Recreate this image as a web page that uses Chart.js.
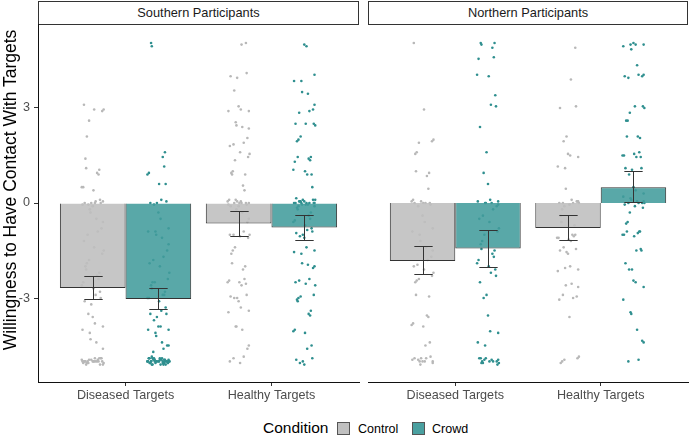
<!DOCTYPE html>
<html>
<head>
<meta charset="utf-8">
<script src="https://cdn.jsdelivr.net/npm/chart.js@4.4.1/dist/chart.umd.min.js"></script>
<style>
    body { margin: 0; background: #fff; font-family: 'Liberation Sans', Arial, sans-serif; }
    #wrap { position: relative; width: 690px; height: 435px; overflow: hidden; }
    canvas { position: absolute; top: 24px; }
    .strip { position: absolute; top: 1px; height: 24px; box-sizing: border-box; border: 1px solid #333;
             text-align: center; line-height: 22px; font-size: 12.8px; color: #1a1a1a; background: #fff; }
    #ytitle { position: absolute; left: -190px; top: 180px; width: 400px; height: 20px; line-height: 20px;
              text-align: center; font-size: 17.5px; color: #000; transform: rotate(-90deg); white-space: nowrap; }
    #legend { position: absolute; top: 419px; left: 0; width: 690px; height: 16px; }
    #legend span { position: absolute; top: 0; white-space: nowrap; color: #000; }
    .key { position: absolute; top: 3px; width: 13px; height: 13px; box-sizing: border-box; border: 1px solid #555; }
</style>
</head>
<body>
<div id="wrap">
    <div class="strip" style="left:38px;width:321px;">Southern Participants</div>
    <div class="strip" style="left:368px;width:320px;">Northern Participants</div>
    <canvas id="southChart" width="362" height="385" style="left:0;"></canvas>
    <canvas id="northChart" width="328" height="385" style="left:362px;"></canvas>
    <div id="ytitle">Willingness to Have Contact With Targets</div>
    <div id="legend">
        <span style="left:263px;font-size:15.5px;line-height:18px;">Condition</span>
        <div class="key" style="left:337px;background:#c0c0c0;"></div>
        <span style="left:358px;top:3px;font-size:12.5px;">Control</span>
        <div class="key" style="left:412px;background:#4aa0a0;"></div>
        <span style="left:432px;top:3px;font-size:12.5px;">Crowd</span>
    </div>
</div>
<script>
// Categories and tick labels
const categories = ['Diseased Targets', 'Healthy Targets'];
const yTicks = [-3, 0, 3];

// Bar means and error bar limits (Diseased, Healthy)
const southControlMean = [-2.68, -0.65];
const southControlLow = [-3.03, -1.04];
const southControlHigh = [-2.30, -0.26];
const southCrowdMean = [-3.03, -0.77];
const southCrowdLow = [-3.35, -1.16];
const southCrowdHigh = [-2.68, -0.38];

const northControlMean = [-1.83, -0.79];
const northControlLow = [-2.25, -1.16];
const northControlHigh = [-1.37, -0.38];
const northCrowdMean = [-1.44, 0.50];
const northCrowdLow = [-2.03, 0.02];
const northCrowdHigh = [-0.86, 1.00];

// Individual responses
const southDiseasedControl = [3.1, 2.95, 2.95, 2.9, 2.6, 2.1, 1.4, 1.1, 1.05, 0.95, 0.9, 0.5, 0.5, 0.4, 0.1, 0.05, 0, 0, 0,
    -0.05, -0.1, 0, 0.05, -0.05, -0.2, -0.3, -0.5, -0.6, -0.8, -0.9, -1.0, -1.2, -1.4, -1.5, -1.6, -1.8, -1.9, -2.0, -2.1,
    -2.2, -2.3, -2.4, -2.5, -2.6, -2.7, -2.8, -2.9, -3.0, -3.1, -3.2, -3.5, -3.6, -3.8, -3.9, -4.0, -4.1, -4.3, -4.4, -4.6,
    -4.9, -4.95, -5.0, -5.0, -5.0, -5.05, -5.0, -4.95, -5.05, -5.0, -5.1, -4.9, -5.0, -5.0, -5.05, -4.95, -5.0, -5.1, -5.0,
    -4.9, -5.0, -4.95, -5.05, -5.0, -4.9, -5.1, -5.0];
const southDiseasedCrowd = [5.05, 4.95, 1.6, 1.45, 1.15, 0.95, 0.9, 0.6, 0.6, 0.1, 0.05, 0, 0, -0.05, -0.3, -0.5, -0.8, -0.9,
    -0.9, -1.0, -1.1, -1.3, -1.5, -1.7, -1.8, -1.9, -2.0, -2.2, -2.4, -2.5, -2.5, -2.6, -2.7, -2.8, -2.9, -2.9, -3.0, -3.0,
    -3.1, -3.3, -3.4, -3.5, -3.5, -3.6, -3.7, -3.9, -3.9, -4.0, -4.0, -4.1, -4.2, -4.4, -4.5, -4.5, -4.6, -4.7, -4.9, -4.95,
    -5.0, -5.05, -5.0, -4.9, -5.0, -5.1, -4.95, -5.0, -5.05, -4.9, -5.0, -5.0, -5.1, -4.95, -5.0, -5.05, -5.0, -4.9, -5.0,
    -5.1, -4.95, -5.0, -5.05, -5.0, -4.9, -5.0, -5.0, -5.1, -4.95, -5.05, -4.9, -5.0, -5.05, -4.95, -5.1, -5.0, -4.85,
    -5.0, -5.05, -4.95, -4.9, -5.0];
const southHealthyControl = [5.05, 5.0, 4.1, 4.0, 3.95, 3.55, 3.05, 2.95, 2.9, 2.9, 2.55, 2.45, 2.4, 2.35, 2.05, 1.9, 1.85,
    1.8, 1.6, 1.55, 1.45, 1.35, 1.0, 0.95, 0.9, 0.9, 0.55, 0.4, 0.1, 0.05, 0, 0, 0, -0.05, -0.1, 0.05, 0, -0.1, 0.05, 0,
    -0.05, 0.1, -0.2, -0.3, -0.5, -0.6, -0.9, -1.0, -1.0, -1.05, -1.0, -1.1, -1.4, -1.5, -1.6, -1.9, -2.0, -2.1, -2.4,
    -2.45, -2.5, -2.5, -2.55, -2.6, -2.9, -2.95, -3.0, -3.0, -3.1, -3.3, -3.4, -3.45, -3.9, -3.9, -4.0, -4.5, -4.6, -4.85,
    -4.9, -5.0, -5.05];
const southHealthyCrowd = [5.0, 4.95, 4.05, 3.85, 3.85, 3.5, 3.45, 3.1, 2.95, 2.9, 2.85, 2.5, 2.5, 2.45, 2.5, 2.1, 2.0, 1.95,
    1.45, 1.45, 1.4, 1.35, 1.3, 1.05, 1.0, 0.9, 0.9, 0.5, 0.15, 0.1, 0.05, 0.05, 0, 0, 0, 0, -0.05, -0.05, -0.1, 0.1, 0,
    0.05, 0, -0.05, 0.1, 0, 0.05, -0.1, -0.15, -0.2, -0.3, -0.4, -0.5, -0.55, -0.6, -0.7, -0.8, -0.85, -0.9, -0.95, -1.0,
    -1.05, -1.1, -1.4, -1.5, -1.55, -1.6, -1.9, -1.95, -2.0, -2.05, -2.4, -2.45, -2.5, -2.55, -2.6, -2.9, -2.95, -3.0,
    -3.05, -3.1, -3.4, -3.5, -3.55, -4.0, -4.05, -4.1, -4.5, -4.6, -4.9, -4.95, -5.0, -5.05, -5.1];
const northDiseasedControl = [5.05, 2.95, 2.0, 1.95, 1.9, 1.6, 1.55, 1.0, 0.95, 0.85, 0.45, 0.1, 0.05, 0, 0, 0, -0.05, 0,
    0.05, -0.1, -0.4, -0.6, -0.8, -0.9, -1.0, -1.2, -1.4, -1.5, -1.7, -1.8, -1.95, -2.0, -2.1, -2.2, -2.3, -2.4, -2.45,
    -2.5, -2.9, -2.95, -3.55, -3.6, -3.8, -3.85, -3.9, -4.4, -4.5, -4.85, -4.9, -4.9, -4.95, -5.0, -5.0, -5.05, -4.95,
    -5.0, -5.1, -4.9, -5.0];
const northDiseasedCrowd = [5.05, 5.0, 5.05, 4.9, 4.6, 4.55, 4.05, 4.0, 3.4, 3.1, 3.05, 2.4, 1.6, 0.95, 0.6, 0.1, 0.05,
    0.05, 0, 0, 0, -0.05, -0.1, -0.2, -0.4, -0.5, -0.6, -0.8, -0.9, -1.0, -1.2, -1.3, -1.45, -1.5, -1.6, -1.7, -1.8, -1.9,
    -2.0, -2.1, -2.2, -2.3, -2.5, -2.9, -3.0, -3.55, -4.05, -4.1, -4.4, -4.5, -4.9, -4.95, -4.95, -5.0, -5.0, -5.05, -4.9,
    -5.0, -5.05, -5.1, -4.95, -5.0, -4.9, -5.05];
const northHealthyControl = [4.9, 3.9, 3.05, 3.0, 2.1, 1.95, 1.55, 1.5, 1.45, 1.15, 1.1, 0.45, 0.1, 0.05, 0.05, 0, 0, 0,
    -0.05, 0, 0.05, -0.1, -0.2, -0.4, -0.6, -0.7, -1.0, -1.05, -1.1, -1.1, -1.15, -1.0, -1.2, -1.45, -1.5, -1.55, -1.4,
    -1.6, -2.0, -2.1, -2.15, -2.05, -2.6, -2.55, -2.65, -2.95, -3.0, -2.9, -3.05, -3.6, -4.85, -4.9, -4.95, -5.0, -5.05];
const northHealthyCrowd = [5.05, 5.0, 5.0, 4.95, 5.0, 4.85, 4.35, 4.05, 4.0, 4.05, 3.95, 4.0, 3.05, 3.0, 3.05, 2.85, 2.6,
    2.6, 2.1, 2.05, 2.1, 1.6, 1.5, 1.5, 1.55, 1.45, 1.45, 1.1, 1.1, 1.05, 0.9, 0.5, 0.4, 0.3, 0.2, 0.15, 0.1, 0.05, 0.05,
    0, 0, 0, -0.05, -0.1, 0, -0.15, -0.3, -0.6, -0.65, -0.9, -0.9, -0.95, -0.9, -1.0, -1.0, -1.05, -1.45, -1.5, -1.5,
    -1.9, -2.1, -2.1, -2.45, -2.5, -2.65, -3.05, -3.45, -3.5, -4.0, -4.4, -4.35, -4.95, -5.0];

// Fixed horizontal jitter offsets (category units)
const JITTER = [-0.06, 0.03, -0.01, 0.07, -0.04, 0.05, -0.07, 0.01, 0.04, -0.03, 0.06, -0.05, 0.02, -0.02, 0.075, -0.065,
    0.0, 0.035, -0.045, 0.055, -0.015, 0.065, -0.075, 0.015, -0.035, 0.045, -0.055, 0.025, -0.025, 0.005, 0.07];

const FONT = "'Liberation Sans', Arial, sans-serif";
const CONTROL_BAR = 'rgba(190,190,190,0.88)';
const CROWD_BAR = 'rgba(66,156,156,0.88)';
const CONTROL_PT = '#b8b8b8';
const CROWD_PT = '#2f8f8f';
const DODGE = 0.225;

// Build jittered points for one condition across both categories
function jitterPoints(groups, side, seed) {
    const pts = [];
    groups.forEach((values, c) => {
        values.forEach((v, i) => {
            const j = JITTER[(i * 7 + seed + c * 5) % JITTER.length];
            pts.push({ x: c + 1 + side * DODGE + j, y: v });
        });
    });
    return pts;
}

// Error bars drawn with the chart's own scales
const errorBars = {
    id: 'errorBars',
    afterDatasetsDraw(chart) {
        const ctx = chart.ctx;
        const yScale = chart.scales.y;
        ctx.save();
        ctx.strokeStyle = '#333';
        ctx.lineWidth = 1;
        chart.data.datasets.forEach((ds, di) => {
            if (!ds.errLow) return;
            const meta = chart.getDatasetMeta(di);
            meta.data.forEach((bar, i) => {
                const x = Math.round(bar.x) + 0.5;
                const half = bar.width * 0.14;
                const yl = Math.round(yScale.getPixelForValue(ds.errLow[i])) + 0.5;
                const yh = Math.round(yScale.getPixelForValue(ds.errHigh[i])) + 0.5;
                ctx.beginPath();
                ctx.moveTo(x, yl); ctx.lineTo(x, yh);
                ctx.moveTo(x - half, yl); ctx.lineTo(x + half, yl);
                ctx.moveTo(x - half, yh); ctx.lineTo(x + half, yh);
                ctx.stroke();
            });
        });
        ctx.restore();
    }
};

function makePanel(canvasId, showY, padding, ctrl, crowd) {
    const ctx = document.getElementById(canvasId).getContext('2d');
    return new Chart(ctx, {
        type: 'bar',
        data: {
            datasets: [
                {
                    label: 'Control',
                    data: ctrl.mean.map((m, i) => ({ x: i + 1, y: m })),
                    errLow: ctrl.low, errHigh: ctrl.high,
                    backgroundColor: CONTROL_BAR, borderColor: '#333', borderWidth: 1,
                    categoryPercentage: 0.9, barPercentage: 1, order: 0
                },
                {
                    label: 'Crowd',
                    data: crowd.mean.map((m, i) => ({ x: i + 1, y: m })),
                    errLow: crowd.low, errHigh: crowd.high,
                    backgroundColor: CROWD_BAR, borderColor: '#333', borderWidth: 1,
                    categoryPercentage: 0.9, barPercentage: 1, order: 0
                },
                {
                    type: 'scatter', label: 'Control points',
                    data: jitterPoints(ctrl.points, -1, 0),
                    backgroundColor: CONTROL_PT, borderWidth: 0, pointRadius: 1.3, order: 1
                },
                {
                    type: 'scatter', label: 'Crowd points',
                    data: jitterPoints(crowd.points, 1, 11),
                    backgroundColor: CROWD_PT, borderWidth: 0, pointRadius: 1.3, order: 1
                }
            ]
        },
        options: {
            responsive: false,
            animation: false,
            devicePixelRatio: 1,
            layout: { padding: padding, autoPadding: false },
            plugins: { legend: { display: false }, tooltip: { enabled: false } },
            scales: {
                x: {
                    type: 'linear', min: 0.4, max: 2.6, offset: false,
                    afterBuildTicks: s => { s.ticks = [{ value: 1 }, { value: 2 }]; },
                    afterFit: s => { s.height = 27; s.paddingLeft = 0; s.paddingRight = 0; },
                    grid: { drawOnChartArea: false, drawTicks: true, tickLength: 4, color: '#333', offset: false },
                    border: { display: true, color: '#111', width: 1 },
                    ticks: {
                        padding: 2, color: '#4d4d4d', font: { family: FONT, size: 12.6 },
                        callback: v => categories[v - 1]
                    }
                },
                y: {
                    display: showY, min: -5.65, max: 5.65,
                    afterBuildTicks: s => { s.ticks = yTicks.map(v => ({ value: v })); },
                    afterFit: s => {
                        s.width = showY ? 38 : 0;
                        s.paddingTop = 0; s.paddingBottom = 0;
                    },
                    grid: { drawOnChartArea: false, drawTicks: true, tickLength: 4, color: '#333' },
                    border: { display: true, color: '#111', width: 1 },
                    ticks: { padding: 4, color: '#4d4d4d', font: { family: FONT, size: 12.6 } }
                }
            }
        },
        plugins: [errorBars]
    });
}

makePanel('southChart', true, { left: 0, right: 3, top: 0, bottom: 0 },
    { mean: southControlMean, low: southControlLow, high: southControlHigh, points: [southDiseasedControl, southHealthyControl] },
    { mean: southCrowdMean, low: southCrowdLow, high: southCrowdHigh, points: [southDiseasedCrowd, southHealthyCrowd] });

makePanel('northChart', false, { left: 6, right: 2, top: 0, bottom: 0 },
    { mean: northControlMean, low: northControlLow, high: northControlHigh, points: [northDiseasedControl, northHealthyControl] },
    { mean: northCrowdMean, low: northCrowdLow, high: northCrowdHigh, points: [northDiseasedCrowd, northHealthyCrowd] });
</script>
</body>
</html>
